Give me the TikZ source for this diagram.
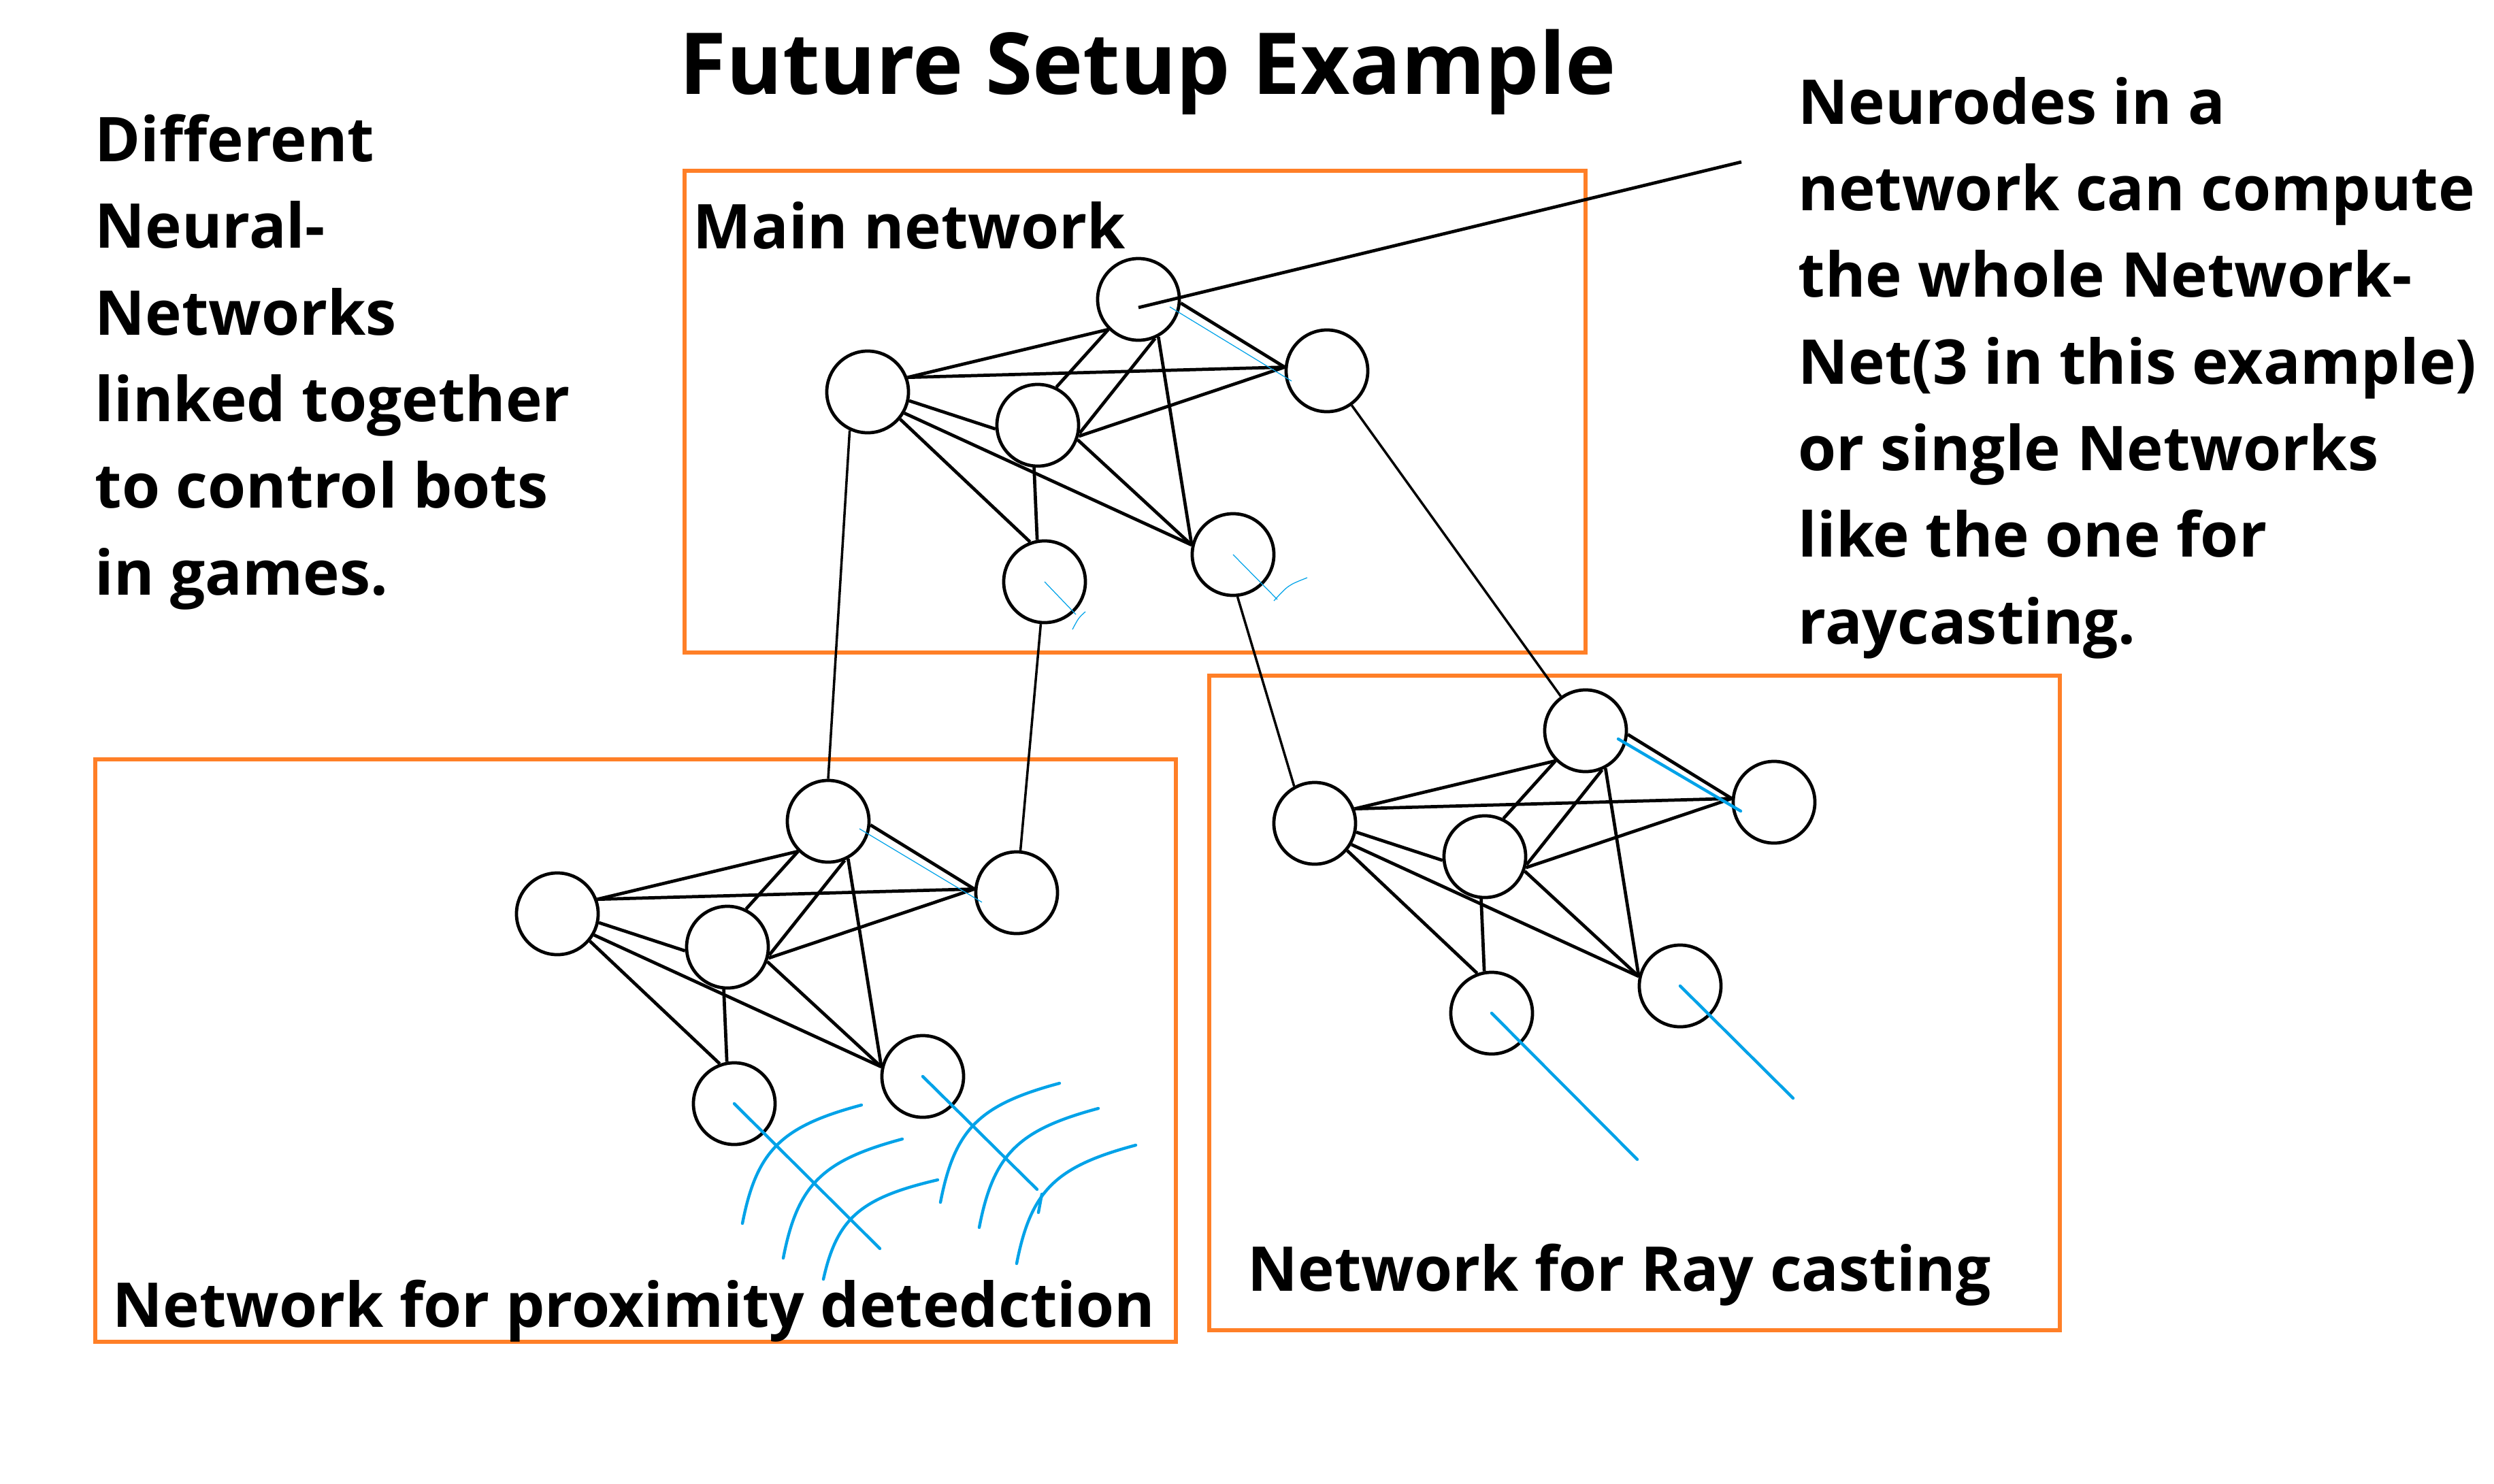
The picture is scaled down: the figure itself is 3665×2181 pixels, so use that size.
\documentclass[tikz,border=0pt]{standalone}
\usepackage{fontspec}
\setmainfont{Open Sans}
\usetikzlibrary{calc}
\definecolor{boxorange}{RGB}{255,127,39}
\definecolor{sensorblue}{RGB}{0,162,232}
\tikzset{
	neurode/.style={circle, draw=black, line width=1.35pt, minimum size=1.2cm, inner sep=0pt},
	netbox/.style={draw=boxorange, line width=1.5pt},
	synapse/.style={line width=1.35pt},
	netlink/.style={line width=1pt},
	sensor/.style={draw=sensorblue, line width=1.25pt, line cap=round},
	faintsensor/.style={draw=sensorblue, line width=0.35pt},
	bodytext/.style={font=\bfseries\fontsize{25.8}{36.2}\selectfont, inner sep=0pt, anchor=base west, align=left},
	titletext/.style={font=\bfseries\fontsize{35.7}{44}\selectfont, inner sep=0pt, anchor=base west}
}

\begin{document}
\begin{tikzpicture}[x=0.01cm, y=-0.01cm]
	\useasboundingbox (0,0) rectangle (3665,2181);
	% frames
	\draw[netbox] (1006,251) rectangle (2330,959);
	\draw[netbox] (140,1116) rectangle (1728,1972);
	\draw[netbox] (1777,993) rectangle (3027,1955);
	% texts (multi-line nodes sit on their last line)
	\node[titletext] (title) at (998,138) {Future Setup Example};
	\node[bodytext] (intro) at (139,874) {Different\\Neural-\\Networks\\linked together\\to control bots\\in games.};
	\node[bodytext] (note) at (2642,946) {Neurodes in a\\network can compute\\the whole Network-\\Net(3 in this example)\\or single Networks\\like the one for\\raycasting.};
	\node[bodytext] (mainlabel) at (1018,365) {Main network};
	\node[bodytext] (proxlabel) at (165,1950) {Network for proximity detedction};
	\node[bodytext] (raylabel) at (1833,1897) {Network for Ray casting};
	% the three nets (same layout)
	\foreach \nn/\tx/\ty in {m/1673/440, p/1217/1207, r/2330/1074} {
		\node[neurode] (\nn-top) at (\tx,\ty) {};
		\node[neurode] (\nn-left) at (\tx-398,\ty+136) {};
		\node[neurode] (\nn-mid) at (\tx-148,\ty+185) {};
		\node[neurode] (\nn-right) at (\tx+277,\ty+105) {};
		\node[neurode] (\nn-bl) at (\tx-138,\ty+415) {};
		\node[neurode] (\nn-br) at (\tx+139,\ty+375) {};
		\draw[synapse] (\nn-left.20) -- (\nn-top.225);
		\draw[synapse] (\nn-left.20) -- (\nn-right.175);
		\draw[synapse] (\nn-left.348) -- (\nn-mid.185);
		\draw[synapse] (\nn-left.320) -- (\nn-bl.110);
		\draw[synapse] (\nn-left.330) -- (\nn-br.167);
		\draw[synapse] (\nn-top.225) -- (\nn-mid.64);
		\draw[synapse] (\nn-top.293) -- (\nn-mid.349);
		\draw[synapse] (\nn-top.298) -- (\nn-br.167);
		\draw[synapse] (\nn-top.355) -- (\nn-right.175);
		\draw[synapse] (\nn-mid.345) -- (\nn-right.175);
		\draw[synapse] (\nn-mid.340) -- (\nn-br.167);
		\draw[synapse] (\nn-mid.265) -- (\nn-bl.100);
	}
	% links between nets
	\draw[netlink] (m-left.245) -- (p-top.north);
	\draw[netlink] (m-bl) -- (p-right);
	\draw[netlink] (m-br.276) -- (r-left.119);
	\draw[netlink] (m-right) -- (r-top);
	\coordinate (note-end) at (2559,238);
	\draw[synapse] ($(m-top)+(0,12)$) -- (note-end);
	% rays
	\coordinate (ray-bl-end) at (2406,1704);
	\coordinate (ray-br-end) at (2635,1614);
	\draw[sensor] (r-bl.center) -- (ray-bl-end);
	\draw[sensor] (r-br.center) -- (ray-br-end);
	\draw[sensor] ($(r-top)+(48,12)$) -- ($(r-right)+(-49,13)$);
	% proximity waves
	\coordinate (prox-bl-end) at (1293,1835);
	\coordinate (prox-br-end) at (1524,1748);
	\draw[sensor] (p-bl.center) -- (prox-bl-end);
	\draw[sensor] (p-br.center) -- (prox-br-end);
	\draw[sensor] (1531,1755) -- (1526,1782);
	\foreach \bx/\by/\dx/\dy in {1091/1798/175/-174, 1151/1849/175/-175, 1210/1880/168/-146,
		1382/1767/175/-175, 1439/1804/175/-175, 1494/1857/175/-174}
		\draw[sensor] (\bx,\by) .. controls +({0.12*\dx},{0.62*\dy}) and +({-0.67*\dx},{-0.18*\dy}) .. +(\dx,\dy);
	% faint strokes
	\draw[faintsensor] ($(m-top)+(46,11)$) -- ($(m-right)+(-52,15)$);
	\draw[faintsensor] ($(p-top)+(46,11)$) -- ($(p-right)+(-51,14)$);
	\draw[faintsensor] (m-bl.center) -- ++(46,48);
	\draw[faintsensor] (1595,899) .. controls (1585,908) .. (1576,925);
	\draw[faintsensor] (m-br.center) -- ++(65,66);
	\draw[faintsensor] (1921,849) .. controls (1893,860) .. (1872,883);
\end{tikzpicture}
\end{document}
